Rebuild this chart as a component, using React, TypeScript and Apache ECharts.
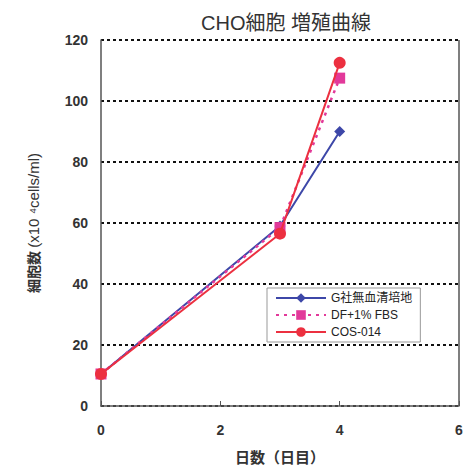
import React, { useEffect, useRef } from "react";
import * as echarts from "echarts";

const days = [0, 3, 4];
const seriesNames = ["G社無血清培地", "DF+1% FBS", "COS-014"];
const gValues = [10.5, 59, 90];
const dfValues = [10.5, 58.5, 107.5];
const cosValues = [10.5, 56.5, 112.5];

const FONT = "'Liberation Sans', 'Noto Sans CJK JP', sans-serif";

export default function App() {
  const ref = useRef<HTMLDivElement>(null);
  useEffect(() => {
    const chart = echarts.init(ref.current!, null, { renderer: "svg" });
    const pair = (vals: number[]) => days.map((d, i) => [d, vals[i]]);
    chart.setOption({
      animation: false,
      textStyle: { fontFamily: FONT },
      title: {
        text: "CHO細胞 増殖曲線",
        left: 281,
        textAlign: "center",
        top: 8,
        textStyle: { fontSize: 20, fontWeight: "normal", color: "#333", fontFamily: FONT },
      },
      grid: {
        left: 101,
        right: 5,
        top: 40,
        bottom: 60,
        containLabel: false,
        outerBoundsMode: "none",
      },
      legend: {
        orient: "vertical",
        left: 267,
        top: 288,
        padding: [4, 8, 4, 8],
        itemGap: 5,
        itemWidth: 50,
        itemHeight: 12,
        borderColor: "#999",
        borderWidth: 1,
        backgroundColor: "#fff",
        textStyle: { fontSize: 12, color: "#222", fontFamily: FONT },
        data: seriesNames,
      },
      xAxis: {
        type: "value",
        min: 0,
        max: 6,
        interval: 2,
        name: "日数（日目）",
        nameLocation: "middle",
        nameGap: 44,
        nameTextStyle: { fontSize: 15, fontWeight: "bold", color: "#333" },
        axisLine: { show: true, lineStyle: { color: "#555", width: 1.5 } },
        axisTick: { show: true, inside: true, length: 5, lineStyle: { color: "#555" } },
        axisLabel: { fontSize: 14, fontWeight: "bold", color: "#333", margin: 17 },
        splitLine: { show: false },
      },
      yAxis: {
        type: "value",
        min: 0,
        max: 120,
        interval: 20,
        name: "{a|細胞数} {b|(x10 ⁴cells/ml)}",
        nameLocation: "middle",
        nameGap: 60,
        nameRotate: 90,
        nameTextStyle: {
          color: "#333",
          rich: {
            a: { fontSize: 14, fontWeight: "bold", color: "#333", fontFamily: FONT },
            b: { fontSize: 15, color: "#333", fontFamily: FONT },
          },
        },
        axisLine: { show: true, lineStyle: { color: "#555", width: 1.5 } },
        axisTick: { show: false },
        axisLabel: { fontSize: 14, fontWeight: "bold", color: "#333", margin: 13 },
        splitLine: { show: true, lineStyle: { color: "#111", width: 2, type: [3, 3] } },
      },
      graphic: [
        {
          type: "line",
          shape: { x1: 459, y1: 40, x2: 459, y2: 406 },
          style: { stroke: "#555", lineWidth: 1.5 },
          z: 5,
        },
      ],
      series: [
        {
          name: seriesNames[0],
          type: "line",
          data: pair(gValues),
          symbol: "diamond",
          symbolSize: 11,
          itemStyle: { color: "#3d47a8" },
          lineStyle: { color: "#3d47a8", width: 2 },
          z: 3,
        },
        {
          name: seriesNames[1],
          type: "line",
          data: pair(dfValues),
          symbol: "rect",
          symbolSize: 11,
          itemStyle: { color: "#e2399a" },
          lineStyle: { color: "#e2399a", width: 2.5, type: [3, 5] },
          z: 4,
        },
        {
          name: seriesNames[2],
          type: "line",
          data: pair(cosValues),
          symbol: "circle",
          symbolSize: 12,
          itemStyle: { color: "#ec3040" },
          lineStyle: { color: "#ec3040", width: 2 },
          z: 5,
        },
      ],
    });
    return () => chart.dispose();
  }, []);
  return <div ref={ref} style={{ width: 464, height: 466, position: "absolute", left: 0, top: 0 }} />;
}
